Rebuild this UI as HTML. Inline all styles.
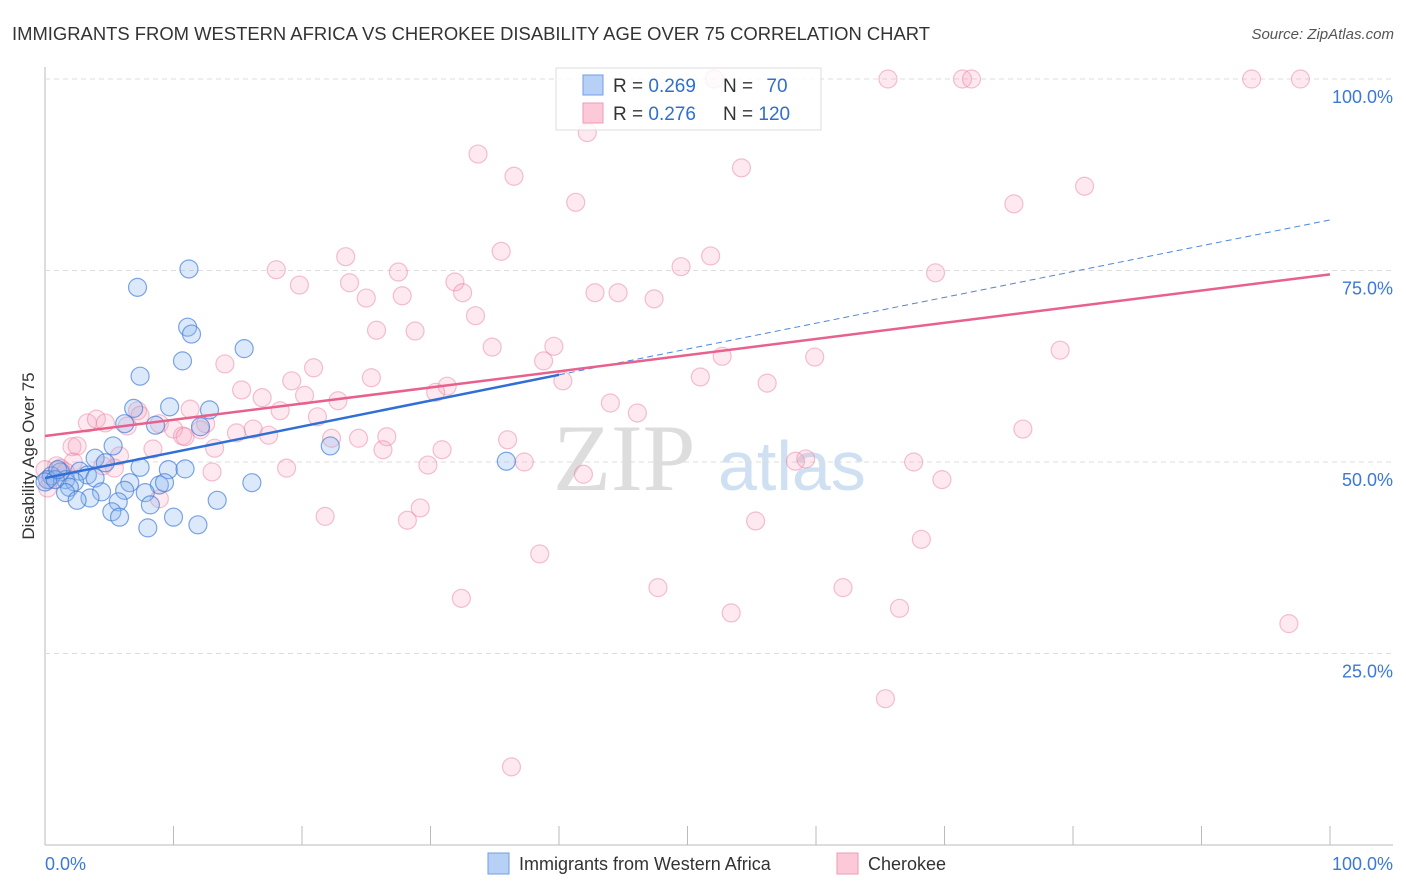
<!DOCTYPE html>
<html><head><meta charset="utf-8"><style>
body{margin:0;background:#fff;font-family:"Liberation Sans",sans-serif;}
svg{display:block}
</style></head><body>
<svg id="c" width="1406" height="892" xmlns="http://www.w3.org/2000/svg">
<text x="12" y="40" font-size="18" fill="#333" textLength="918" lengthAdjust="spacingAndGlyphs">IMMIGRANTS FROM WESTERN AFRICA VS CHEROKEE DISABILITY AGE OVER 75 CORRELATION CHART</text>
<text x="1394" y="39" font-size="15" fill="#555" font-style="italic" text-anchor="end">Source: ZipAtlas.com</text>
<text x="34" y="456" font-size="17" fill="#333" text-anchor="middle" transform="rotate(-90 34 456)">Disability Age Over 75</text>
<text x="553" y="490" font-size="95" fill="#ddd" font-family="Liberation Serif,serif">ZIP</text>
<text x="718" y="490" font-size="70" fill="#cfe0f3">atlas</text>
<g id="grid"></g><g id="pts"></g><g id="lines"></g>
<g>
<rect x="556" y="68" width="265" height="62" fill="rgba(255,255,255,0.8)" stroke="#ddd"/>
<rect x="583" y="75" width="20" height="20" fill="#b7d0f5" stroke="#6f9ee6"/>
<rect x="583" y="103" width="20" height="20" fill="#fcc9d8" stroke="#ef9ab5"/>
<text x="613" y="92" font-size="19" fill="#333">R = <tspan fill="#2f6fce">0.269</tspan></text>
<text x="723" y="92" font-size="19" fill="#333">N = <tspan fill="#2f6fce" dx="8">70</tspan></text>
<text x="613" y="120" font-size="19" fill="#333">R = <tspan fill="#2f6fce">0.276</tspan></text>
<text x="723" y="120" font-size="19" fill="#333">N = <tspan fill="#2f6fce">120</tspan></text>
</g>
<g>
<rect x="488" y="853" width="21" height="21" fill="#b7d0f5" stroke="#6f9ee6"/>
<text x="519" y="870" font-size="18" fill="#333">Immigrants from Western Africa</text>
<rect x="837" y="853" width="21" height="21" fill="#fcc9d8" stroke="#ef9ab5"/>
<text x="868" y="870" font-size="18" fill="#333">Cherokee</text>
</g>
</svg>
<script>
const blueX=[11.2,7.2,11.1,11.4,10.7,15.5,7.4,6.9,9.7,12.8,6.2,8.6,12.1,5.3,22.2,35.9,3.9,4.7,7.4,9.6,10.9,2.7,3.3,1.2,0.5,0.2,1.6,2.3,3.9,1.9,0,6.6,8.9,16.1,1.6,6.2,4.4,7.8,3.5,2.5,5.7,13.4,8.2,5.2,5.8,10.0,11.9,8.0,0.8,1.0,9.3];
const blueY=[75.2,72.8,67.6,66.7,63.2,64.8,61.2,57.0,57.2,56.8,55.0,54.8,54.6,52.1,52.1,50.1,50.5,49.9,49.3,49.0,49.1,48.8,48.3,48.7,48.2,47.7,47.7,47.4,47.9,46.7,47.4,47.3,47.0,47.3,46.0,46.3,46.1,46.0,45.3,45.0,44.8,45.0,44.4,43.5,42.8,42.8,41.8,41.4,47.7,49.0,47.3];
const pinkX=[65.6,71.4,72.1,93.9,97.7,52.1,42.2,33.7,36.5,54.2,41.3,80.9,75.4,35.5,51.8,49.5,23.4,18.0,27.5,69.3,19.8,23.7,31.9,27.8,32.5,42.8,44.6,25.0,47.4,33.5,25.8,28.8,34.8,39.6,79.0,52.7,59.9,38.8,14.0,20.9,51.0,25.4,56.2,40.3,19.2,31.3,30.4,15.3,16.9,20.2,44.0,46.1,11.3,7.2,3.3,4.0,4.7,6.4,8.9,10.0,12.5,18.3,21.2,22.8,76.1,14.9,16.2,17.4,10.7,8.4,13.2,22.3,24.4,26.6,36.0,2.1,2.5,5.8,2.2,0.9,0,0.4,0.2,1.2,5.4,13.0,18.8,26.3,30.9,29.8,37.3,41.9,58.4,59.2,67.6,69.8,21.8,28.2,29.2,55.3,38.5,68.2,32.4,47.7,53.4,62.1,66.5,96.8,65.4,36.3,1.6,8.9,4.5,10.9,12.1,7.4];
const pinkY=[100,100,100,100,100,100,93.0,90.2,87.3,88.4,83.9,86.0,83.7,77.5,76.9,75.5,76.8,75.1,74.8,74.7,73.1,73.4,73.5,71.7,72.1,72.1,72.1,71.4,71.3,69.1,67.2,67.1,65.0,65.1,64.6,63.8,63.7,63.2,62.8,62.3,61.1,61.0,60.3,60.6,60.6,59.9,59.1,59.4,58.4,58.7,57.7,56.4,56.9,56.7,55.1,55.6,55.1,54.7,55.0,54.3,55.0,56.7,55.9,58.0,54.3,53.8,54.3,53.5,53.4,51.7,51.8,53.1,53.1,53.3,52.9,52.0,52.1,50.8,50.0,49.5,49.0,47.7,46.6,49.2,49.2,48.7,49.2,51.6,51.6,49.6,50.0,48.4,50.1,50.4,50.0,47.7,42.9,42.4,44.0,42.3,38.0,39.9,32.2,33.6,30.3,33.6,30.9,28.9,19.1,10.2,48.7,45.2,49.5,53.3,54.2,56.1];
const yTicks=[25,50,75,100];
const yTickLabels=["25.0%","50.0%","75.0%","100.0%"];
const xTickVals=[0,10,20,30,40,50,60,70,80,90,100];
const blueTrend=[47.9,81.6];
const pinkTrend=[53.4,74.5];
const NS="http://www.w3.org/2000/svg";
const X=v=>45+v*12.85, Y=v=>845-v*7.66;
function mk(t,a,p){const e=document.createElementNS(NS,t);for(const k in a)e.setAttribute(k,a[k]);p.appendChild(e);return e;}
const grid=document.getElementById('grid'),pts=document.getElementById('pts'),lines=document.getElementById('lines');
const ax=mk('line',{x1:45,y1:845,x2:1393,y2:845,stroke:'#bbb'},grid);


const ay=mk('line',{x1:45,y1:67,x2:45,y2:845,stroke:'#bbb'},grid);


yTicks.forEach((t,i)=>{
 const g=mk('line',{x1:45,y1:Y(t),x2:1393,y2:Y(t),stroke:'#ddd','stroke-dasharray':'5,4'},grid);
 
 
 const l=mk('text',{x:1393,y:Y(t)+24,'font-size':18,fill:'#3b78d8','text-anchor':'end'},grid);
 l.textContent=yTickLabels[i];
 
 
});
xTickVals.forEach(v=>{
 const t=mk('line',{x1:X(v),y1:826,x2:X(v),y2:845,stroke:'#bbb'},grid);
 
 
});
const xl0=mk('text',{x:45,y:870,'font-size':18,fill:'#3b78d8'},grid);xl0.textContent='0.0%';


const xl1=mk('text',{x:1393,y:870,'font-size':18,fill:'#3b78d8','text-anchor':'end'},grid);xl1.textContent='100.0%';


pinkX.forEach((x,i)=>{const c=mk('circle',{cx:X(x),cy:Y(pinkY[i]),r:9,fill:'rgba(247,166,192,0.25)',stroke:'rgba(232,120,156,0.45)','stroke-width':1.2},pts);
 
 });
blueX.forEach((x,i)=>{const c=mk('circle',{cx:X(x),cy:Y(blueY[i]),r:9,fill:'rgba(140,182,240,0.3)',stroke:'rgba(60,120,215,0.65)','stroke-width':1.2},pts);
 
 });
const bAt=v=>blueTrend[0]+(blueTrend[1]-blueTrend[0])*v/100;
const b1=mk('line',{x1:X(0),y1:Y(bAt(0)),x2:X(40),y2:Y(bAt(40)),stroke:'#2f6fd6','stroke-width':2.5},lines);


const b2=mk('line',{x1:X(40),y1:Y(bAt(40)),x2:X(100),y2:Y(bAt(100)),stroke:'#4f86d9','stroke-width':1,'stroke-dasharray':'6,4'},lines);


const p1=mk('line',{x1:X(0),y1:Y(pinkTrend[0]),x2:X(100),y2:Y(pinkTrend[1]),stroke:'#e8608c','stroke-width':2.5},lines);


</script>
</body></html>
